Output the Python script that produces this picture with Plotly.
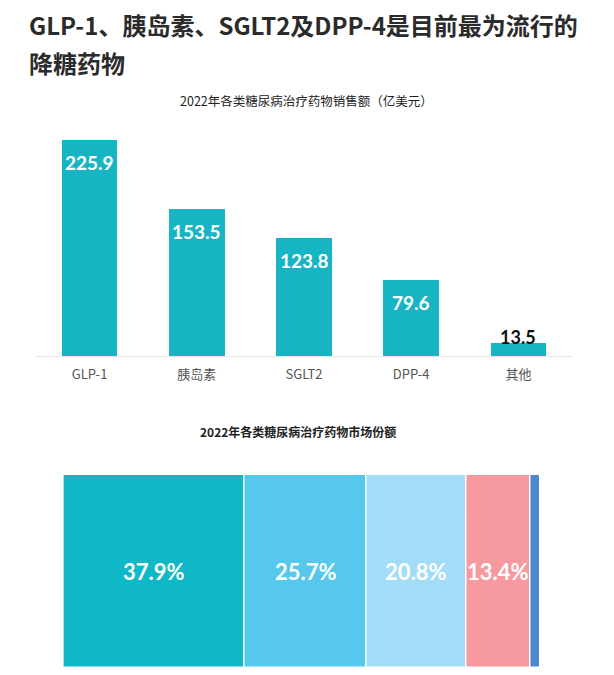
import plotly.graph_objects as go

# ---- data ----
categories = ["GLP-1", "胰岛素", "SGLT2", "DPP-4", "其他"]
sales = [225.9, 153.5, 123.8, 79.6, 13.5]
share_labels = ["37.9%", "25.7%", "20.8%", "13.4%", ""]
shares = [37.9, 25.7, 20.8, 13.4, 2.2]
share_colors = ["#0fb8c6", "#55c8ec", "#a3dcf7", "#f69aa0", "#4a88d0"]

title_line1 = "GLP-1、胰岛素、SGLT2及DPP-4是目前最为流行的"
title_line2 = "降糖药物"
sub1 = "2022年各类糖尿病治疗药物销售额（亿美元）"
sub2 = "2022年各类糖尿病治疗药物市场份额"

OFF = 8  # page body margin
W, H = 614 - OFF, 675 - OFF
CJK = "Noto Sans CJK SC, sans-serif"
NARROW = "Lato, Roboto, sans-serif"

def fy(px):
    return (H - (px - OFF)) / H

def fx(px):
    return (px - OFF) / W

fig = go.Figure()

# top bar chart
fig.add_trace(go.Bar(
    x=categories, y=sales, marker=dict(color="#17b5c4", line=dict(width=0)),
    width=0.52, xaxis="x", yaxis="y", hoverinfo="skip", showlegend=False,
))

# value labels
for c, v in zip(categories, sales):
    if v > 40:
        fig.add_annotation(x=c, y=v, xref="x", yref="y", text=f"<b>{v}</b>",
                           showarrow=False, yanchor="top", yshift=-9,
                           font=dict(family=NARROW, size=19, color="white"))
    else:
        fig.add_annotation(x=c, y=v, xref="x", yref="y", text=f"<b>{v}</b>",
                           showarrow=False, yanchor="middle", yshift=6,
                           font=dict(family=NARROW, size=18, color="#111111"))

# bottom stacked share bar
base = 0
for lab, s, col in zip(share_labels, shares, share_colors):
    fig.add_trace(go.Bar(
        y=[0], x=[s], base=[base], orientation="h",
        marker=dict(color=col, line=dict(color="white", width=1.5)),
        width=1, xaxis="x2", yaxis="y2", hoverinfo="skip", showlegend=False,
    ))
    if lab:
        fig.add_annotation(x=base + s / 2, y=0, xref="x2", yref="y2",
                           text=f"<b>{lab}</b>", showarrow=False,
                           font=dict(family=NARROW, size=22, color="white"))
    base += s

# titles
fig.add_annotation(x=fx(27), y=fy(25), xref="paper", yref="paper", xanchor="left",
                   yanchor="middle", text=f"<b>{title_line1}</b>", showarrow=False,
                   font=dict(family=CJK, size=24, color="#2b2b2b"))
fig.add_annotation(x=fx(27), y=fy(62), xref="paper", yref="paper", xanchor="left",
                   yanchor="middle", text=f"<b>{title_line2}</b>", showarrow=False,
                   font=dict(family=CJK, size=24, color="#2b2b2b"))
fig.add_annotation(x=fx(306), y=fy(100), xref="paper", yref="paper",
                   yanchor="middle", text=sub1, showarrow=False,
                   font=dict(family=CJK, size=12.5, color="#222222"))
fig.add_annotation(x=fx(298), y=fy(431), xref="paper", yref="paper",
                   yanchor="middle", text=f"<b>{sub2}</b>", showarrow=False,
                   font=dict(family=CJK, size=12, color="#222222"))

ppu = 0.956  # pixels per unit
top_px = 130
fig.update_layout(
    width=W, height=H, margin=dict(l=0, r=0, t=0, b=0),
    paper_bgcolor="white", plot_bgcolor="white",
    barmode="overlay", bargap=0,
    xaxis=dict(domain=[fx(36), fx(572)], showline=True, linecolor="#e4e4e4",
               linewidth=1, ticks="", showgrid=False, zeroline=False,
               tickfont=dict(family=CJK, size=13, color="#555555"),
               ticklabelstandoff=6, fixedrange=True),
    yaxis=dict(domain=[fy(356), fy(top_px)], range=[0, (356 - top_px) / ppu],
               visible=False, fixedrange=True),
    xaxis2=dict(domain=[fx(63.5), fx(540.5)], range=[0, 100], visible=False,
                anchor="y2", fixedrange=True),
    yaxis2=dict(domain=[fy(668), fy(475)], range=[-0.5, 0.5], visible=False,
                anchor="x2", fixedrange=True),
)

fig.write_html("out.html")
